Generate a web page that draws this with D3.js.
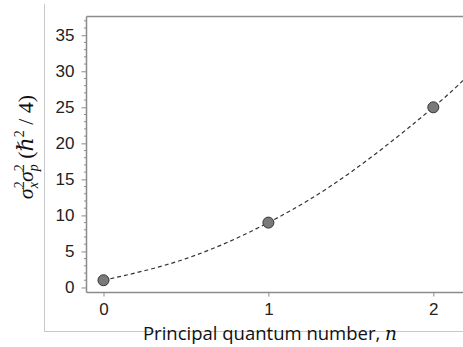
<!DOCTYPE html>
<html><head><meta charset="utf-8">
<script src="https://cdn.jsdelivr.net/npm/d3@7"></script>
<style>body{margin:0;background:#fff}svg{display:block}</style>
</head><body>
<script>
const nValues = [0, 1, 2];
const products = [1, 9, 25];
const curveN = [0, 0.5, 1, 1.5, 2, 2.2];
const curveY = [1, 4, 9, 16, 25, 29.2];
const yTicks = [0, 5, 10, 15, 20, 25, 30, 35];
const xTicks = [0, 1, 2];

(function () {
const W = 463, H = 347;
const svg = d3.select("body").append("svg").attr("width", W).attr("height", H);

// outer frame lines
svg.append("line").attr("x1", 44.5).attr("x2", 44.5).attr("y1", 4).attr("y2", 331.5).attr("stroke", "#c8c8c8");
svg.append("line").attr("x1", 44).attr("x2", W).attr("y1", 331.5).attr("y2", 331.5).attr("stroke", "#c8c8c8");

const pl = 86.5, pt = 16.5, pb = 292.5, pr = W;
const x = d3.scaleLinear().domain([-0.103, 2.18]).range([pl, pr]);
const y = d3.scaleLinear().domain([-0.7, 37.6]).range([pb, pt]);

// top border
svg.append("line").attr("x1", pl).attr("x2", pr).attr("y1", pt).attr("y2", pt).attr("stroke", "#8c8c8c").attr("stroke-width", 1.5);

// y axis
const yAx = svg.append("g").attr("transform", `translate(${pl},0)`)
  .call(d3.axisLeft(y).tickValues(yTicks).tickSize(5).tickPadding(7));
yAx.select(".domain").attr("stroke", "#8c8c8c").attr("stroke-width", 1.5).attr("d", `M0,${pt}V${pb}`);
yAx.selectAll(".tick line").attr("stroke", "#8c8c8c");
yAx.selectAll(".tick text").attr("font-family", "Liberation Sans, Arial, sans-serif").attr("font-size", 17).attr("fill", "#222");
// minor ticks
const minor = d3.range(0, 38).filter(v => v % 5 !== 0);
svg.append("g").selectAll("line").data(minor).join("line")
  .attr("x1", pl - 2.5).attr("x2", pl).attr("y1", d => y(d)).attr("y2", d => y(d))
  .attr("stroke", "#8c8c8c");

// x axis
const xAx = svg.append("g").attr("transform", `translate(0,${pb})`)
  .call(d3.axisBottom(x).tickValues(xTicks).tickSize(4).tickPadding(6).tickFormat(d3.format("d")));
xAx.select(".domain").attr("stroke", "#8c8c8c").attr("stroke-width", 1.5).attr("d", `M${pl},0H${pr}`);
xAx.selectAll(".tick line").attr("stroke", "#8c8c8c");
xAx.selectAll(".tick text").attr("font-family", "Liberation Sans, Arial, sans-serif").attr("font-size", 17).attr("fill", "#222");

// dashed curve
const curvePts = curveN.map((n, i) => [n, curveY[i]]);
svg.append("path").datum(curvePts)
  .attr("d", d3.line().x(d => x(d[0])).y(d => y(d[1])).curve(d3.curveNatural))
  .attr("fill", "none").attr("stroke", "#333").attr("stroke-width", 1.2).attr("stroke-dasharray", "4,3");

// points
svg.append("g").selectAll("circle").data(nValues).join("circle")
  .attr("cx", d => x(d)).attr("cy", (d, i) => y(products[i])).attr("r", 5.5)
  .attr("fill", "#7a7a7a").attr("stroke", "#333").attr("stroke-width", 1);

// x label
const xl = svg.append("text").attr("x", 270).attr("y", 340).attr("text-anchor", "middle")
  .attr("font-family", "Open Sans, Noto Sans, sans-serif").attr("font-size", 18.5).attr("fill", "#111");
xl.append("tspan").text("Principal quantum number, ");
xl.append("tspan").attr("font-family", "DejaVu Serif, Liberation Serif, serif").attr("font-style", "italic").text("n");

// y label
const yl = svg.append("text").attr("transform", "translate(33,147) rotate(-90)").attr("text-anchor", "middle")
  .attr("font-family", "Liberation Serif, DejaVu Serif, serif").attr("font-size", 22).attr("fill", "#111");
yl.append("tspan").attr("font-style", "italic").text("σ");
yl.append("tspan").attr("font-size", 14).attr("dy", -9).text("2");
yl.append("tspan").attr("font-size", 14).attr("font-style", "italic").attr("dx", -7).attr("dy", 14).text("x");
yl.append("tspan").attr("font-style", "italic").attr("dy", -5).text("σ");
yl.append("tspan").attr("font-size", 14).attr("dy", -9).text("2");
yl.append("tspan").attr("font-size", 14).attr("font-style", "italic").attr("dx", -7).attr("dy", 14).text("p");
yl.append("tspan").attr("dy", -5).text(" (");
yl.append("tspan").attr("font-style", "italic").text("ℏ");
yl.append("tspan").attr("font-size", 14).attr("dy", -9).text("2");
yl.append("tspan").attr("dy", 9).text(" / 4)");
})();
</script>
</body></html>
